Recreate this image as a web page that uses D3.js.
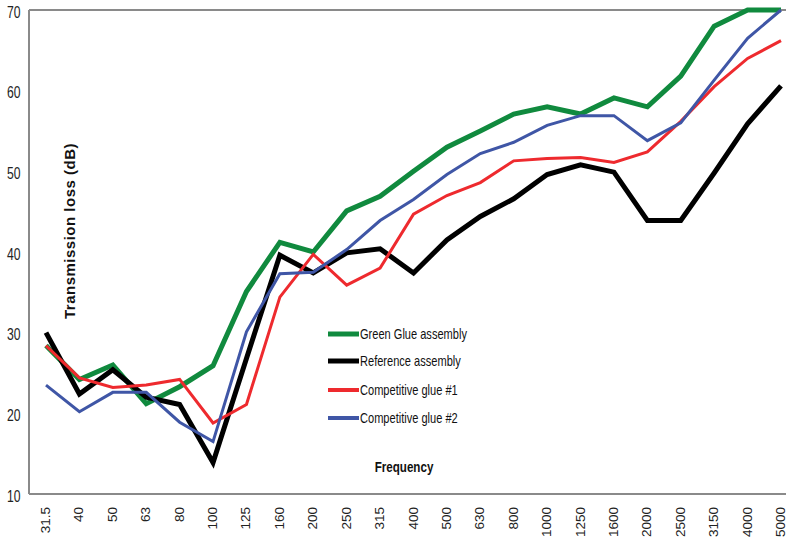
<!DOCTYPE html>
<html>
<head>
<meta charset="utf-8">
<script src="https://cdn.jsdelivr.net/npm/d3@7"></script>
<style>
  html, body { margin: 0; padding: 0; background: #fff; }
  svg { display: block; }
</style>
</head>
<body>
<div id="chart"></div>
<script>
const frequencies = ["31.5","40","50","63","80","100","125","160","200","250","315","400","500","630","800","1000","1250","1600","2000","2500","3150","4000","5000"];
const greenGlue   = [28.4,24.2,26.0,21.2,23.3,25.9,35.1,41.2,40.0,45.1,46.9,50.0,53.0,55.0,57.1,58.0,57.1,59.1,58.0,61.8,68.0,70.0,70.0];
const reference   = [30.0,22.4,25.4,22.0,21.1,13.9,26.8,39.6,37.4,39.9,40.4,37.4,41.5,44.4,46.6,49.6,50.8,49.9,43.9,43.9,49.8,55.9,60.6];
const competitive1= [28.4,24.4,23.2,23.5,24.2,18.8,21.1,34.4,39.7,35.9,38.0,44.7,47.0,48.6,51.3,51.6,51.7,51.1,52.4,56.2,60.5,64.0,66.2];
const competitive2= [23.5,20.2,22.6,22.6,18.9,16.5,30.1,37.3,37.5,40.3,43.9,46.5,49.6,52.2,53.6,55.7,56.9,56.9,53.8,56.0,61.3,66.5,70.0];
const seriesNames = ["Green Glue assembly","Reference assembly","Competitive glue #1","Competitive glue #2"];
const yTicks = [10,20,30,40,50,60,70];

const W = 786, H = 542;
const plot = {left: 29, top: 10, bottom: 494, right: 786};

const series = [
  {name: seriesNames[0], values: greenGlue,    color: "#108a3e", width: 5},
  {name: seriesNames[1], values: reference,    color: "#000000", width: 5},
  {name: seriesNames[2], values: competitive1, color: "#ee2a2e", width: 3},
  {name: seriesNames[3], values: competitive2, color: "#3f56a6", width: 3}
];

const svg = d3.select("#chart").append("svg").attr("width", W).attr("height", H);

const x = d3.scalePoint().domain(frequencies).range([46, 781]);
const y = d3.scaleLinear().domain([10, 70]).range([plot.bottom, plot.top]);

const font = "'Liberation Sans', Arial, sans-serif";

// frame (left axis, bottom axis, top border)
svg.append("line").attr("x1", plot.left).attr("x2", plot.left).attr("y1", plot.top).attr("y2", plot.bottom)
  .attr("stroke", "#8a8a8a").attr("stroke-width", 2);
svg.append("line").attr("x1", plot.left).attr("x2", plot.right).attr("y1", plot.top).attr("y2", plot.top)
  .attr("stroke", "#8a8a8a").attr("stroke-width", 2);
svg.append("line").attr("x1", plot.left).attr("x2", plot.right).attr("y1", plot.bottom).attr("y2", plot.bottom)
  .attr("stroke", "#8a8a8a").attr("stroke-width", 2);

// y axis labels
const yAxis = d3.axisLeft(y).tickValues(yTicks).tickSize(0).tickPadding(0).tickFormat(d3.format("d"));
const gy = svg.append("g").attr("transform", `translate(20.5,2)`).call(yAxis);
gy.select(".domain").remove();
gy.selectAll("text").attr("font-family", font).attr("font-size", 16).attr("fill", "#222")
  .attr("x", 0).attr("transform", "scale(0.76,1)");

// x axis labels (rotated)
const xAxis = d3.axisBottom(x).tickSize(0).tickPadding(0);
const gx = svg.append("g").attr("transform", `translate(0,${plot.bottom})`).call(xAxis);
gx.select(".domain").remove();
gx.selectAll("text")
  .attr("font-family", font).attr("font-size", 13.5).attr("fill", "#222")
  .attr("text-anchor", "end")
  .attr("transform", "rotate(-90)")
  .attr("x", -13).attr("y", 0).attr("dy", "0.26em");

// lines
const line = d3.line().x((d, i) => x(frequencies[i])).y(d => y(d));
svg.append("g").selectAll("path").data(series).join("path")
  .attr("d", d => line(d.values))
  .attr("fill", "none")
  .attr("stroke", d => d.color)
  .attr("stroke-width", d => d.width)
  .attr("stroke-linejoin", "miter")
  .attr("stroke-miterlimit", 4);

// legend
const legend = svg.append("g").attr("transform", "translate(328,334)");
const rows = legend.selectAll("g").data(series).join("g")
  .attr("transform", (d, i) => `translate(0,${[0, 27, 56, 84][i]})`);
rows.append("line").attr("x1", 0).attr("x2", 31).attr("y1", 0).attr("y2", 0)
  .attr("stroke", d => d.color).attr("stroke-width", d => d.width === 5 ? 5 : 4);
rows.append("text").attr("transform", `translate(32,0) scale(0.79,1)`).attr("dy", "0.36em")
  .attr("font-family", font).attr("font-size", 14).attr("fill", "#111")
  .text(d => d.name);

// axis titles
svg.append("text")
  .attr("transform", "translate(404,467) scale(0.83,1)")
  .attr("dy", "0.36em")
  .attr("text-anchor", "middle")
  .attr("font-family", font).attr("font-weight", "bold").attr("font-size", 14).attr("fill", "#111")
  .text("Frequency");

svg.append("text")
  .attr("transform", "translate(70,231) rotate(-90)")
  .attr("text-anchor", "middle").attr("dy", "0.36em")
  .attr("font-family", font).attr("font-weight", "bold").attr("font-size", 15)
  .attr("letter-spacing", 0.5).attr("fill", "#111")
  .text("Transmission loss (dB)");
</script>
</body>
</html>
